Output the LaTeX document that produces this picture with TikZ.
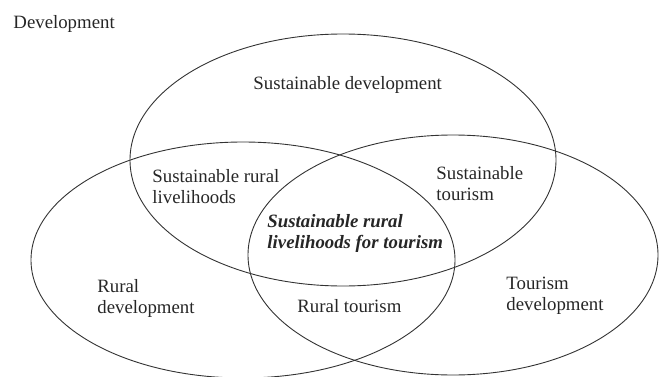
\documentclass[tikz,border=0pt]{standalone}
\usepackage{fontspec}
\setmainfont{Liberation Serif}
\usepackage{tikz}

\tikzset{
  label text/.style={font=\fontsize{18.8}{21}\selectfont, text=black!85,
    align=left, inner sep=0pt, anchor=base west}
}

\begin{document}
\begin{tikzpicture}[x=1pt, y=1pt, line width=0.9pt]
    \useasboundingbox (0, 0) rectangle (659, 376);

    % draw the three circles of the diagram
    \draw[color=black!80] (343, 216) ellipse [x radius=213, y radius=126];
    \draw[color=black!80] (243, 116) ellipse [x radius=212, y radius=118];
    \draw[color=black!80] (453, 121) ellipse [x radius=205, y radius=120];

    % draw labels (base is the last line)
    \node[label text] (dev) at (13, 347.5) {Development};
    \node[label text] (sd) at (253, 287) {Sustainable development};
    \node[label text] (srl) at (152, 172.5) {Sustainable rural\\livelihoods};
    \node[label text] (st) at (436, 176) {Sustainable\\tourism};
    \node[label text, font=\fontsize{18.8}{21}\selectfont\bfseries\itshape] (srlt)
      at (267, 127.7) {Sustainable rural\\livelihoods for tourism};
    \node[label text] (rd) at (97, 63) {Rural\\development};
    \node[label text] (rt) at (297, 63.3) {Rural tourism};
    \node[label text] (td) at (506, 65.7) {Tourism\\development};

\end{tikzpicture}
\end{document}
